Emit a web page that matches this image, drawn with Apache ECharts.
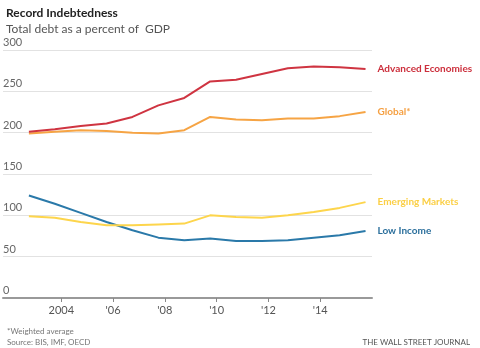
<!DOCTYPE html>
<html>
<head>
<meta charset="utf-8">
<script src="https://cdn.jsdelivr.net/npm/echarts@6/dist/echarts.min.js"></script>
<style>
html,body{margin:0;padding:0;background:#fff;}
#c{width:480px;height:348px;}
</style>
</head>
<body>
<div id="c"></div>
<script>
// Observation years (plotted at the Q4 point of each year)
var years = [2002, 2003, 2004, 2005, 2006, 2007, 2008, 2009, 2010, 2011, 2012, 2013, 2014, 2015];
var advanced = [201, 204, 208, 211, 219, 233, 242, 262, 264, 271, 278, 280, 279, 277];
var globalAvg = [199, 201, 203, 202, 200, 199, 203, 219, 216, 215, 217, 217, 220, 225];
var emerging = [99, 97, 92, 88, 88, 89, 90, 100, 98, 97, 100, 104, 109, 116];
var lowIncome = [124, 114, 103, 92, 82, 73, 70, 72, 69, 69, 70, 73, 76, 81];
var yTicks = [0, 50, 100, 150, 200, 250, 300];
var xTicks = [2004, 2006, 2008, 2010, 2012, 2014];
var xTickLabels = ['2004', "'06", "'08", "'10", "'12", "'14"];
var seriesNames = ['Advanced Economies', 'Global*', 'Emerging Markets', 'Low Income'];

var colors = ['#cf3441', '#f6a444', '#fdd54c', '#2a79a9'];
var labelColors = ['#cc2f3c', '#f5a043', '#fbcf45', '#2b6f9c'];
var font = 'Lato, "Open Sans", sans-serif';

function pts(vals) {
  return vals.map(function (v, i) { return [years[i] + 0.75, v]; });
}
var allVals = [advanced, globalAvg, emerging, lowIncome];

var chart = echarts.init(document.getElementById('c'), null, {renderer: 'canvas'});
chart.setOption({
  animation: false,
  backgroundColor: '#fff',
  title: [
    {text: 'Record Indebtedness', left: 1, top: 2,
     textStyle: {fontFamily: font, fontSize: 12, fontWeight: 'bold', color: '#222'}},
    {text: 'Total debt as a percent of  GDP', left: 1, top: 18,
     textStyle: {fontFamily: font, fontSize: 12, fontWeight: 'normal', color: '#555'}},
    {text: '*Weighted average', left: 2, top: 322,
     textStyle: {fontFamily: font, fontSize: 8, fontWeight: 'normal', color: '#777'}},
    {text: 'Source: BIS, IMF, OECD', left: 2, top: 333,
     textStyle: {fontFamily: font, fontSize: 8, fontWeight: 'normal', color: '#777'}},
    {text: 'THE WALL STREET JOURNAL', right: 5, top: 333,
     textStyle: {fontFamily: font, fontSize: 8, fontWeight: 'normal', color: '#555'}}
  ],
  grid: {left: 3, right: 108, top: 50, bottom: 50, containLabel: false},
  xAxis: {
    type: 'value', min: 2001.75, max: 2016,
    axisLine: {show: true, lineStyle: {color: '#999', width: 2}},
    axisTick: {show: true, customValues: xTicks, length: 4, lineStyle: {color: '#888'}},
    axisLabel: {show: true, customValues: xTicks, margin: 7,
      formatter: function (v) { return xTickLabels[xTicks.indexOf(v)]; },
      fontFamily: font, fontSize: 11, color: '#555'},
    splitLine: {show: false}
  },
  yAxis: {
    type: 'value', min: 0, max: 300, interval: 50,
    axisLine: {show: false}, axisTick: {show: false},
    axisLabel: {inside: true, margin: 0, verticalAlign: 'bottom', padding: [0, 0, 2, 0],
      fontFamily: font, fontSize: 11, color: '#666',
      formatter: function (v) { return yTicks.indexOf(v) >= 0 ? String(v) : ''; }},
    splitLine: {show: true, lineStyle: {color: '#e2e2e2', width: 1}}
  },
  series: allVals.map(function (vals, k) {
    return {
      name: seriesNames[k], type: 'line', data: pts(vals),
      symbol: 'none', smooth: false, z: 10 - k,
      lineStyle: {color: colors[k], width: 2},
      endLabel: {show: true, formatter: seriesNames[k], distance: 12,
        fontFamily: font, fontSize: 10, fontWeight: 'bold', color: labelColors[k]}
    };
  })
});
</script>
</body>
</html>
